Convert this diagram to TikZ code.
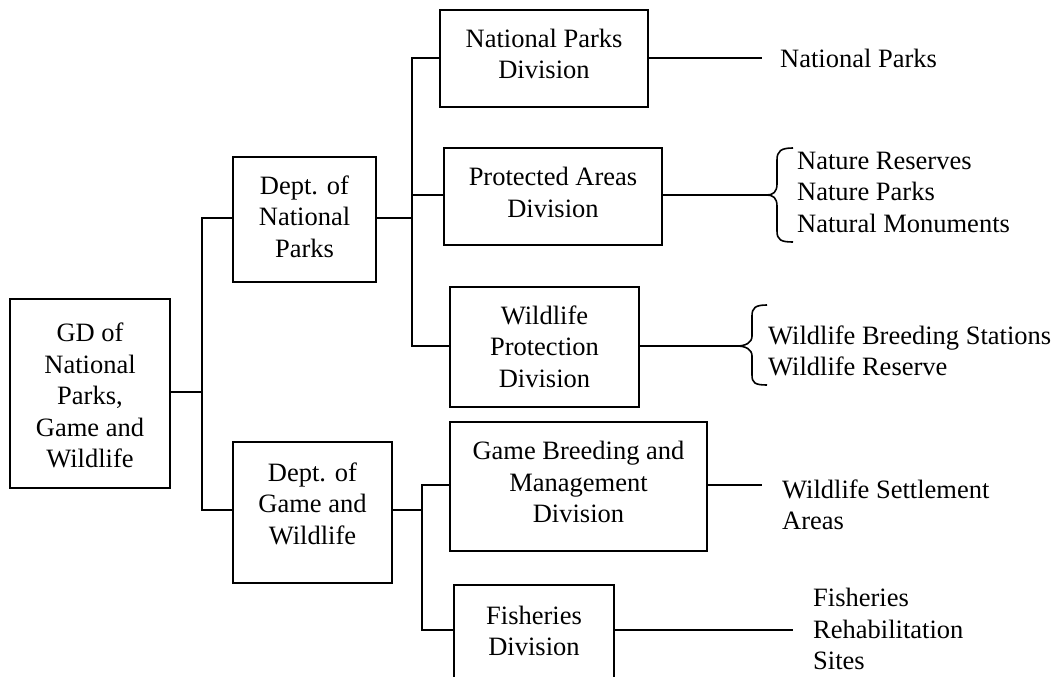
\documentclass[tikz,border=0pt]{standalone}
\usepackage{fontspec}
\setmainfont{Liberation Serif}
\begin{document}
\begin{tikzpicture}[x=1pt,y=-1pt,
  box/.style={draw,line width=1.6pt,inner sep=0pt},
  txt/.style={inner sep=0pt,align=center,font=\fontsize{26.5}{31.5}\selectfont},
  lbl/.style={inner sep=0pt,align=left,font=\fontsize{26.5}{31.5}\selectfont},
  conn/.style={line width=1.6pt},
  brc/.style={line width=1.6pt}]
\clip (0,0) rectangle (1060,677);
% boxes
\node[box,minimum width=160pt,minimum height=189pt] (gd) at (90,393.5) {};
\node[txt] (gdt) at (90,395.5) {GD of\\National\\Parks,\\Game and\\Wildlife};
\node[box,minimum width=143pt,minimum height=125pt] (dnp) at (304.5,219.5) {};
\node[txt] (dnpt) at (304.5,216.5) {Dept. of\\National\\Parks};
\node[box,minimum width=159pt,minimum height=141pt] (dgw) at (312.5,512.5) {};
\node[txt] (dgwt) at (312.5,503.5) {Dept. of\\Game and\\Wildlife};
\node[box,minimum width=208pt,minimum height=97pt] (npd) at (544,58.5) {};
\node[txt] (npdt) at (544,54) {National Parks\\Division};
\node[box,minimum width=218pt,minimum height=97pt] (pad) at (553,196.5) {};
\node[txt] (padt) at (553,192.5) {Protected Areas\\Division};
\node[box,minimum width=189pt,minimum height=120pt] (wpd) at (544.5,347) {};
\node[txt] (wpdt) at (544.5,346.5) {Wildlife\\Protection\\Division};
\node[box,minimum width=257pt,minimum height=129pt] (gbm) at (578.5,486.5) {};
\node[txt] (gbmt) at (578.5,482) {Game Breeding and\\Management\\Division};
\node[box,minimum width=160pt,minimum height=97pt] (fd) at (534,633.5) {};
\node[txt] (fdt) at (534,631) {Fisheries\\Division};
% junction coordinates
\coordinate (j1) at (202,392);
\coordinate (j1a) at (202,218);
\coordinate (j1b) at (202,510);
\coordinate (j2) at (412,218);
\coordinate (j2a) at (412,58);
\coordinate (j2b) at (412,195);
\coordinate (j2c) at (412,346);
\coordinate (j3) at (422,510);
\coordinate (j3a) at (422,485);
\coordinate (j3b) at (422,630);
% connectors
\draw[conn] (gd.east |- j1) -- (j1);
\draw[conn] (dnp.west |- j1a) -- (j1a) -- (j1b) -- (dgw.west |- j1b);
\draw[conn] (dnp.east |- j2) -- (j2);
\draw[conn] (npd.west |- j2a) -- (j2a) -- (j2c) -- (wpd.west |- j2c);
\draw[conn] (j2b) -- (pad.west |- j2b);
\draw[conn,line width=2.4pt] (dgw.east |- j3) -- (j3);
\draw[conn] (gbm.west |- j3a) -- (j3a) -- (j3b) -- (fd.west |- j3b);
% right side
\coordinate (e1) at (762,58);
\coordinate (e2) at (767,195);
\coordinate (e3) at (737,346);
\coordinate (e4) at (762,485);
\coordinate (e5) at (793,630);
\draw[conn] (npd.east |- e1) -- (e1);
\draw[conn] (pad.east |- e2) -- (e2);
\draw[conn] (wpd.east |- e3) -- (e3);
\draw[conn] (gbm.east |- e4) -- (e4);
\draw[conn] (fd.east |- e5) -- (e5);
% braces
\draw[brc] (793,148) .. controls (781,148) and (777,151) .. (777,160) -- (777,184)
  .. controls (777,192) and (773,195) .. (e2)
  .. controls (773,195) and (777,198) .. (777,206) -- (777,231)
  .. controls (777,240) and (781,242) .. (793,242);
\draw[brc] (767,305) .. controls (755,305) and (752,308) .. (752,316) -- (752,336)
  .. controls (752,343) and (745,346) .. (e3)
  .. controls (745,346) and (752,349) .. (752,356) -- (752,375)
  .. controls (752,383) and (755,385) .. (767,385);
% labels
\node[lbl,anchor=west] (t1) at (780,58) {National Parks};
\node[lbl,anchor=west] (t2) at (797,192) {Nature Reserves\\Nature Parks\\Natural Monuments};
\node[lbl,anchor=west] (t3) at (768,351) {Wildlife Breeding Stations\\Wildlife Reserve};
\node[lbl,anchor=west] (t4) at (782,505) {Wildlife Settlement\\Areas};
\node[lbl,anchor=west] (t5) at (813,629) {Fisheries\\Rehabilitation\\Sites};
\end{tikzpicture}
\end{document}
